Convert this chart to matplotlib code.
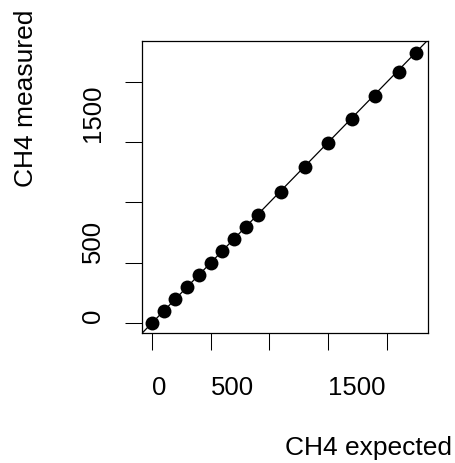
import matplotlib
matplotlib.use("Agg")
import matplotlib.pyplot as plt

# CH4 calibration: expected vs measured concentration
ch4_expected = [0, 100, 200, 300, 400, 500, 600, 700, 800, 900,
                1100, 1300, 1500, 1700, 1900, 2100, 2250]
ch4_measured = [0, 100, 202, 301, 396, 495, 598, 700, 794, 896,
                1090, 1292, 1496, 1690, 1887, 2083, 2238]

tick_values = [0, 500, 1000, 1500, 2000]
tick_labels = ["0", "500", "", "1500", ""]

plt.rcParams["font.family"] = ["Liberation Sans", "DejaVu Sans"]

fig = plt.figure(figsize=(4.56, 4.63), dpi=100)
ax = fig.add_axes([142 / 456, 130 / 463, 286 / 456, 292 / 463])

ax.plot(ch4_expected, ch4_measured, "o", color="black", markersize=10,
        markeredgewidth=0, zorder=3)
ax.axline((0, 0), slope=1, color="black", linewidth=0.9, zorder=2)

ax.set_xlim(-85, 2349)
ax.set_ylim(-83, 2340)

ax.set_xticks(tick_values, tick_labels)
ax.set_yticks(tick_values, tick_labels)
ax.tick_params(direction="out", length=12, width=0.75, labelsize=18.5,
               colors="black")
ax.tick_params(axis="x", pad=19)
ax.tick_params(axis="y", pad=14.5)
for lab in ax.get_xticklabels():
    lab.set_horizontalalignment("left")
for lab in ax.get_yticklabels():
    lab.set_rotation(90)
    lab.set_verticalalignment("bottom")

for s in ax.spines.values():
    s.set_linewidth(0.9)
    s.set_color("black")

fig.text(285 / 456, 1 - 455 / 463, "CH4 expected", fontsize=19,
         ha="left", va="baseline")
fig.text(38 / 456, 1 - 187 / 463, "CH4 measured", fontsize=19,
         rotation=90, ha="right", va="bottom")

fig.savefig("out.png", dpi=100)
